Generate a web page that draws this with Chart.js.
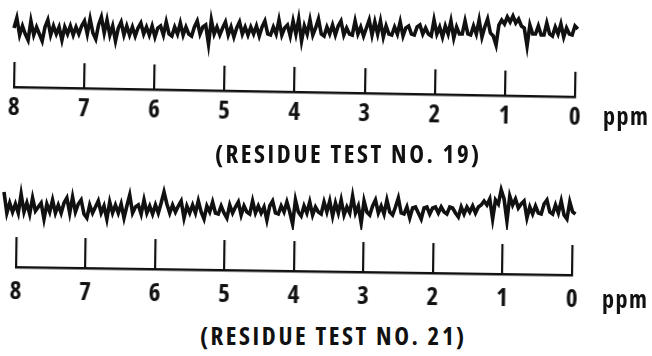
<!DOCTYPE html>
<html>
<head>
<meta charset="utf-8">
<script src="https://cdn.jsdelivr.net/npm/chart.js@4.4.1/dist/chart.umd.min.js"></script>
<style>
html, body { margin: 0; padding: 0; background: #fff; }
#wrap { position: relative; width: 652px; height: 356px; overflow: hidden; }
canvas { position: absolute; }
.lbl { position: absolute; line-height: 1; white-space: nowrap; color: #111;
       font-family: 'Open Sans', 'DejaVu Sans', sans-serif; font-weight: bold; font-stretch: condensed; }
.cap { letter-spacing: 2.6px; font-size: 25px; }
.unit { letter-spacing: 1.5px; font-size: 24px; }
</style>
</head>
<body>
<div id="wrap">
  <canvas id="trace1" width="652" height="60" style="left:0px;top:0px"></canvas>
  <canvas id="axis1" width="652" height="77" style="left:0px;top:50px;transform:rotate(1deg);transform-origin:14px 37px"></canvas>
  <div class="lbl unit" style="left:603px;top:104px">ppm</div>
  <div class="lbl cap" style="left:215px;top:141px">(RESIDUE TEST NO. 19)</div>

  <canvas id="trace2" width="652" height="60" style="left:0px;top:170px"></canvas>
  <canvas id="axis2" width="652" height="82" style="left:0px;top:225px;transform:rotate(0.82deg);transform-origin:11px 42px"></canvas>
  <div class="lbl unit" style="left:602px;top:287px">ppm</div>
  <div class="lbl cap" style="left:200px;top:323px">(RESIDUE TEST NO. 21)</div>
</div>
<script>
// tick labels along the ppm scale (index = ppm value)
const ppmLabels = ['0', '1', '2', '3', '4', '5', '6', '7', '8'];

// trace readings, left (high ppm) to right (low ppm), up = positive, roughly in pixels
const test19 = [
  3, 13, -4, 5, -3, -9, 10, -4, 4, -3, -10, 4, 11, -4, 5, -3, 4, -9, 4, -3,
  5, -4, 4, -3, 5, 10, -3, 12, -2, -8, 6, 14, -2, 11, -4, 5, -10, 3, 9, -4,
  5, -4, 4, -5, 3, 8, -3, 4, -4, 5, -6, 3, 5, -4, 9, -3, -5, 4, -3, 8,
  -4, 4, -3, -5, 4, 10, -3, 4, 6, -13, 11, -3, 4, -4, 3, 9, -4, 4, -6, 3,
  9, -3, 4, -4, 4, -3, 5, -5, 4, 10, -3, -4, 4, -3, 11, -4, 3, 6, -5, 10,
  -3, 12, -10, 5, -3, 11, -4, 3, 12, -3, -5, 4, -3, 6, -4, 5, 10, -4, 3, -3,
  -4, 10, -3, 4, -5, 3, 11, -4, 9, -3, 10, -6, 5, -3, -4, 4, -3, 9, -5, 3,
  5, -3, -4, 4, 6, -3, 3, -3, -5, 11, -3, 4, -6, 5, -3, 10, -7, 4, -3, -3,
  10, -3, -4, 5, -3, 11, -6, 4, 12, -2, -5, -14, 6, 11, 7, 14, 9, 15, 8, 12,
  5, 3, -15, 6, -3, -3, 5, -4, -4, 8, -3, -5, 4, -3, 7, -6, 3, -3, -4, 5, 2
];
const test21 = [
  18, -3, 7, -2, 6, -3, 16, -2, 7, -4, 12, -1, 3, 7, -9, 6, -2, 10, -3, 5,
  -3, 7, 12, -3, 13, -2, 6, 10, -4, -8, 5, -3, 3, 9, -3, 4, -9, 8, -3, 5,
  -3, 6, -8, 4, 15, -3, 3, 5, -4, 10, -3, 4, -4, 5, -3, 7, 18, 6, -3, 5,
  -2, 4, 9, -8, 4, -3, 5, -3, 9, -2, -9, 4, -2, 8, -3, -4, 4, -3, -8, 5,
  -3, 3, 8, -5, 4, -2, -4, 9, -3, 4, -3, 3, -10, 4, 9, -3, -4, 4, -2, 8,
  -2, -14, 10, -2, -6, 4, -3, 8, -5, 3, -2, -4, 8, -2, 9, -6, 7, -3, 10, -5,
  3, -3, 14, -3, 4, -13, 9, -2, -5, 4, 10, -3, 4, -4, 10, -2, -5, 3, 12, -3,
  -4, 3, -8, 2, 3, -3, -9, 2, 3, -4, 2, 3, -3, 3, -2, -4, 3, 2, -3, -7,
  3, -4, 3, -2, 4, -3, 3, 5, 9, 5, 11, -9, 10, 6, 20, 11, -11, 14, 5, 11,
  2, 6, 9, -8, 3, -4, 4, -3, -4, 6, 10, -2, -4, 5, -3, 9, -5, -9, 8, -2, -4
];

// ppm where each recorded trace starts and stops
const test19Range = [8.0, -0.04];
const test21Range = [8.1, -0.05];

const ink = '#111';
const labelFont = "'Open Sans', 'DejaVu Sans', sans-serif";

function make_trace(id, values, range, yMin, yMax, padL, padR) {
    let step = (range[0] - range[1]) / (values.length - 1);
    let points = values.map((v, i) => ({x: range[0] - i * step, y: v}));
    new Chart(document.getElementById(id), {
        type: 'line',
        data: {
            datasets: [{
                data: points,
                borderColor: ink,
                borderWidth: 3.6,
                pointRadius: 0,
                tension: 0,
                clip: false
            }]
        },
        options: {
            responsive: false,
            animation: false,
            layout: {padding: {left: padL, right: padR, top: 0, bottom: 0}},
            plugins: {legend: {display: false}, tooltip: {enabled: false}},
            scales: {
                x: {type: 'linear', reverse: true, min: 0, max: 8, display: false},
                y: {min: yMin, max: yMax, display: false}
            }
        }
    });
}

function make_axis(id, padL, padR, padTop, labelPad) {
    new Chart(document.getElementById(id), {
        type: 'line',
        data: {datasets: [{data: []}]},
        options: {
            responsive: false,
            animation: false,
            layout: {padding: {left: padL, right: padR, top: padTop, bottom: 0}},
            plugins: {legend: {display: false}, tooltip: {enabled: false}},
            scales: {
                x: {
                    type: 'linear', reverse: true, min: 0, max: 8,
                    grid: {color: ink, lineWidth: 2.2, drawTicks: false},
                    border: {color: ink, width: 2.6},
                    ticks: {
                        stepSize: 1, autoSkip: false, maxRotation: 0,
                        padding: labelPad, color: ink,
                        font: {family: labelFont, size: 25, weight: 'bold condensed'},
                        callback: v => ppmLabels[v]
                    },
                    afterFit: s => { s.height = 40; }
                },
                y: {display: false, min: 0, max: 1}
            }
        }
    });
}

make_trace('trace1', test19, test19Range, -29, 31, 14, 77);
make_axis('axis1', 14, 77, 12, 6);
make_trace('trace2', test21, test21Range, -20, 40, 11, 80);
make_axis('axis2', 11, 80, 12, 10);
</script>
</body>
</html>
